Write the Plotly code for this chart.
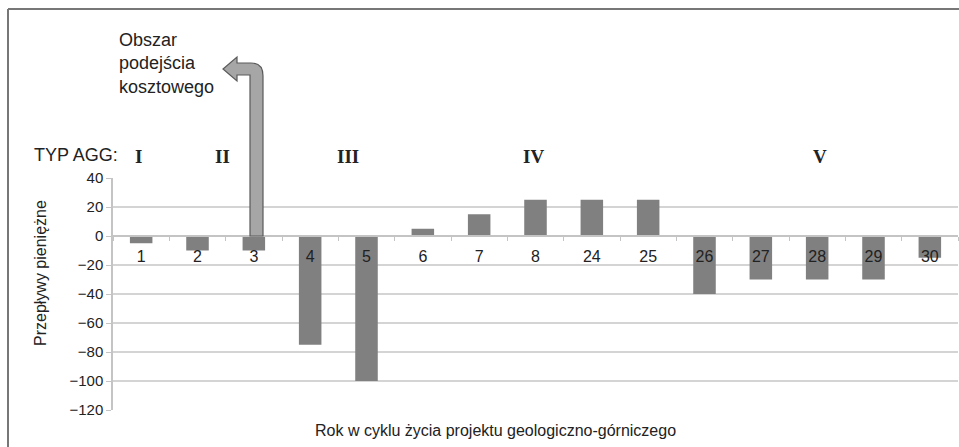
import plotly.graph_objects as go

# ---- data ----
years = ["1", "2", "3", "4", "5", "6", "7", "8", "24", "25", "26", "27", "28", "29", "30"]
cash_flows = [-5, -10, -10, -75, -100, 5, 15, 25, 25, 25, -40, -30, -30, -30, -15]
agg_types = ["I", "II", "III", "IV", "V"]
y_ticks = [40, 20, 0, -20, -40, -60, -80, -100, -120]

W, H = 959, 447
L, R, T, B = 113, 958, 178, 410  # plot area in pixels

def px(x):
    return (x - L) / (R - L)

def py(y):
    return (B - y) / (B - T)

FONT = "Liberation Sans, Arial, sans-serif"

fig = go.Figure()
fig.add_trace(go.Bar(
    x=years, y=cash_flows,
    marker=dict(color="#808080", line=dict(width=0)),
    width=0.4,
    hoverinfo="x+y",
))

fig.update_layout(
    width=W, height=H,
    margin=dict(l=L, r=W - R, t=T, b=H - B, pad=0),
    paper_bgcolor="white", plot_bgcolor="white",
    showlegend=False,
    font=dict(family=FONT, color="#222222"),
    xaxis=dict(
        type="category", range=[-0.5, 14.5],
        anchor="free", position=0.75, automargin=False,
        showline=True, linecolor="#c4c4c4", linewidth=1.5,
        ticks="outside", tickson="boundaries", ticklen=4, tickcolor="#c4c4c4",
        ticklabelstandoff=6,
        showgrid=False, tickfont=dict(size=16, color="#222222"),
    ),
    yaxis=dict(
        range=[-120, 40], tickvals=y_ticks, automargin=False,
        showgrid=True, gridcolor="#d4d4d4", gridwidth=1.5,
        zeroline=False,
        showline=True, linecolor="#c4c4c4", linewidth=1.5,
        ticks="outside", ticklen=5, tickcolor="#c4c4c4",
        tickfont=dict(size=15, color="#222222"),
    ),
)

annotations = []
# axis titles
annotations.append(dict(text="Przepływy pieniężne", x=px(40), y=py(273), xref="paper", yref="paper",
                        xanchor="center", yanchor="middle",
                        textangle=-90, showarrow=False, font=dict(size=16, family=FONT, color="#222")))
annotations.append(dict(text="Rok w cyklu życia projektu geologiczno-górniczego", x=px(495), y=py(430),
                        xref="paper", yref="paper", xanchor="center", yanchor="middle", showarrow=False,
                        font=dict(size=16, family=FONT, color="#222")))
# TYP AGG
annotations.append(dict(text="TYP AGG:", x=px(32), y=py(155), xref="paper", yref="paper",
                        xanchor="left", yanchor="middle", showarrow=False,
                        font=dict(size=18, family=FONT, color="#222")))
roman_x = [138, 222, 348, 533, 820]
for t, rx in zip(agg_types, roman_x):
    annotations.append(dict(text="<b>" + t + "</b>", x=px(rx), y=py(156), xref="paper", yref="paper",
                            xanchor="center", yanchor="middle", showarrow=False,
                            font=dict(size=19, family="Liberation Serif, Times New Roman, serif", color="#222")))
# cost-approach label
annotations.append(dict(text="Obszar<br>podejścia<br>kosztowego", x=px(117), y=py(64), xref="paper", yref="paper",
                        xanchor="left", yanchor="middle", align="left", showarrow=False,
                        font=dict(size=18, family=FONT, color="#222")))
fig.update_layout(annotations=annotations)

# arrow shape (pixel outline converted to paper coords)
path = f"M {px(250)},{py(236)} L {px(263)},{py(236)} L {px(263)},{py(76)} " \
       f"Q {px(263)},{py(63)} {px(251)},{py(63)} L {px(237)},{py(63)} L {px(237)},{py(57)} " \
       f"L {px(223)},{py(69)} L {px(237)},{py(81)} L {px(237)},{py(75)} " \
       f"L {px(250)},{py(75)} Z"
shapes = [
    dict(type="path", path=path, xref="paper", yref="paper",
         fillcolor="#a6a6a6", line=dict(color="#5a5a5a", width=1.2), layer="above"),
    # outer frame (left and top)
    dict(type="line", xref="paper", yref="paper", x0=px(8), x1=px(8), y0=py(9), y1=py(447),
         line=dict(color="#777777", width=2)),
    dict(type="line", xref="paper", yref="paper", x0=px(8), x1=px(959), y0=py(9), y1=py(9),
         line=dict(color="#777777", width=2)),
]
fig.update_layout(shapes=shapes)

fig.write_html("out.html", config={"displayModeBar": False},
               post_script="document.body.style.margin='0';document.body.style.overflow='hidden';")
